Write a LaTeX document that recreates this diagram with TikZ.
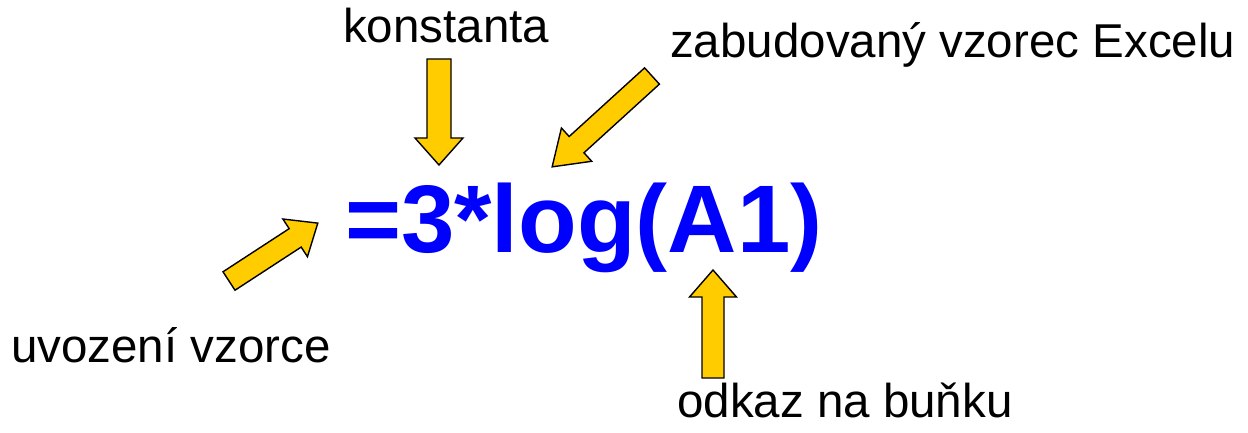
\documentclass[tikz,border=0pt]{standalone}
\usepackage{fontspec}
\setmainfont{Liberation Sans}
\definecolor{arrowfill}{HTML}{FFCC00}
\definecolor{formula}{HTML}{0000FF}
\tikzset{
  blk/.style={fill=arrowfill, draw=black, line width=1.4pt, line join=miter},
  lbl/.style={anchor=base west, inner sep=0pt, font=\fontsize{47.5}{50}\selectfont},
}
% tail x, tail y, angle, length, shaft width, head width, head length
\newcommand\blockarr[7]{%
  \begin{scope}[shift={(#1,#2)},rotate=#3]
    \draw[blk] (0,{-#5/2}) -- ({#4-#7},{-#5/2}) -- ({#4-#7},{-#6/2}) -- (#4,0)
      -- ({#4-#7},{#6/2}) -- ({#4-#7},{#5/2}) -- (0,{#5/2}) -- cycle;
  \end{scope}}
\begin{document}
\begin{tikzpicture}[x=1pt,y=1pt]
  \useasboundingbox (0,0) rectangle (1248,432);
  \node[anchor=base west, inner sep=0pt, text=formula,
        font=\bfseries\fontsize{96}{100}\selectfont] (f) at (345,180) {=3*log(A1)};
  \node[lbl] (k) at (343,389) {konstanta};
  \node[lbl] (z) at (670,374) {zabudovaný vzorec Excelu};
  \node[lbl] (u) at (11,70) {uvození vzorce};
  \node[lbl] (o) at (677,15) {odkaz na buňku};
  \blockarr{439}{373}{-90}{106}{24}{48}{27}
  \blockarr{713}{54}{90}{108}{22}{47}{27}
  \blockarr{652}{356}{222.3}{135}{22}{45}{33}
  \blockarr{229}{151}{33.1}{106}{22}{45}{27}
\end{tikzpicture}
\end{document}
